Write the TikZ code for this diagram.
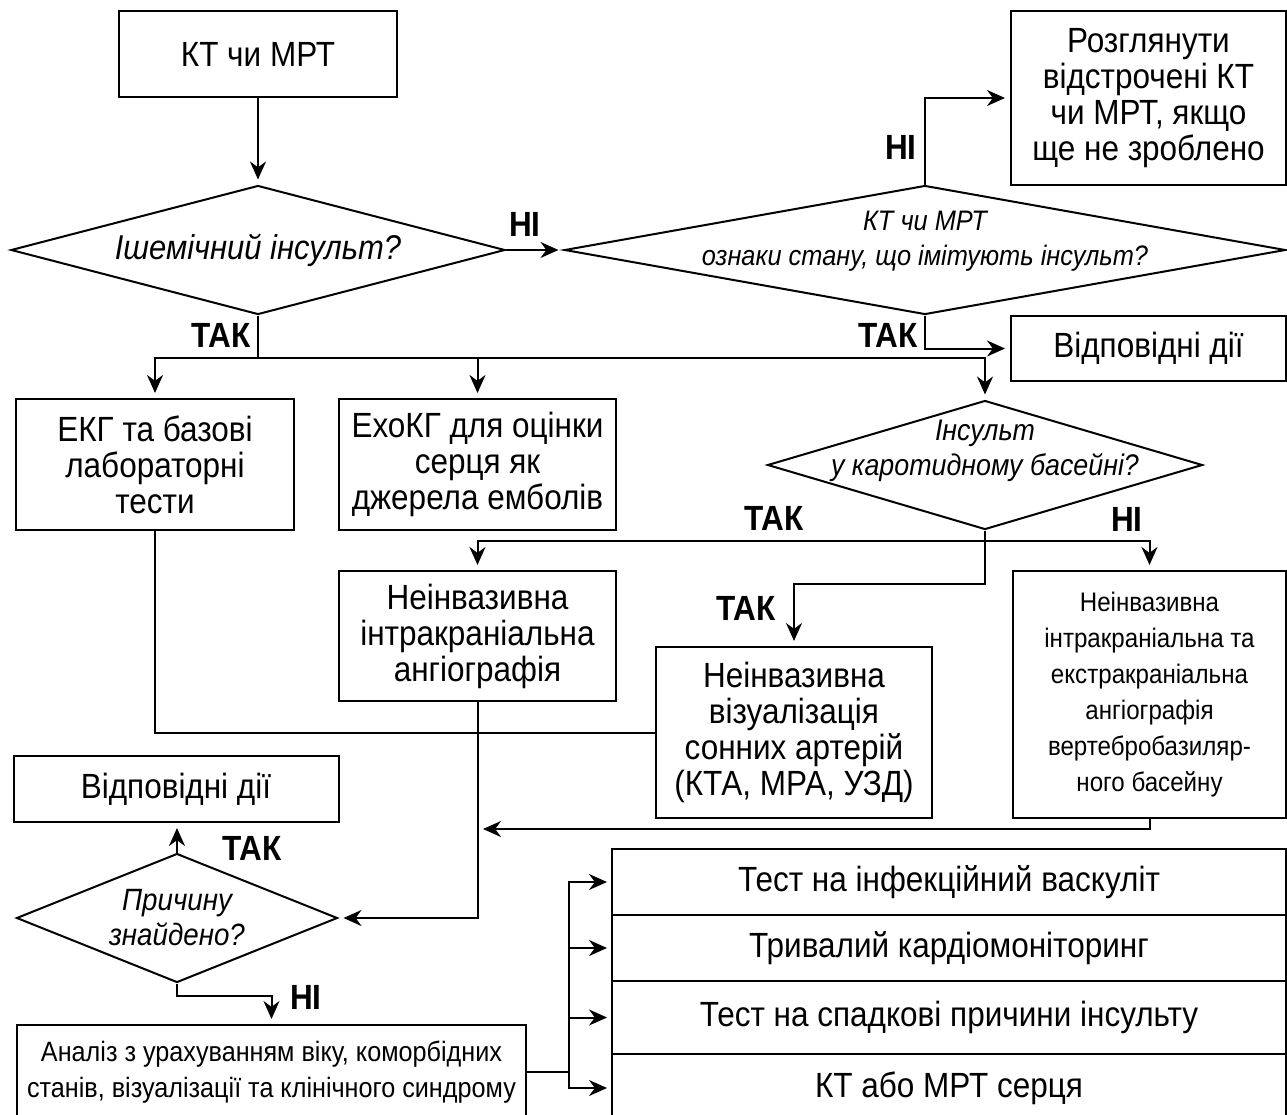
\documentclass[tikz,border=0pt]{standalone}
\usepackage{fontspec}
\setmainfont{Liberation Sans}[FakeStretch=0.9]
\usetikzlibrary{positioning, shapes.geometric, arrows.meta}

\begin{document}
\begin{tikzpicture}[
        x=0.5pt, y=-0.5pt,
        line width=1pt,
        >={Stealth[length=9pt, width=8pt]},
        arr/.style = {->, shorten >=2.5pt},
        box/.style = {rectangle, draw, fill=#1, inner sep=2pt, align=center,
                    font=\fontsize{17.5}{18}\selectfont},
        small/.style = {font=\fontsize{#1}{18}\selectfont},
        decision/.style = {diamond, draw, inner sep=0pt, minimum height=64.5pt},
        ask/.style = {align=center, font=\itshape\fontsize{#1}{17.5}\selectfont},
        yesno/.style = {font=\bfseries\fontsize{17.5}{18}\selectfont}
                    ]
        \useasboundingbox (0,0) rectangle (1287,1115);
        % top part
        \node (ct) [box=white, minimum width=139pt, minimum height=43pt] at (258,54) {КТ чи МРТ};
        \node (isch) [decision, minimum width=247pt,
                label={[ask=17.2]center:Ішемічний інсульт?}] at (258,250) {};
        \node (mimic) [decision, minimum width=360.5pt,
                label={[ask=14.1, yshift=4.5pt]center:{КТ чи МРТ\\ознаки стану, що імітують інсульт?}}] at (925,250) {};
        \node (delay) [box=white, minimum width=137.5pt, minimum height=87pt] at (1148.5,98)
                {Розглянути\\відстрочені КТ\\чи МРТ, якщо\\ще не зроблено};
        \node (act1) [box=white, minimum width=137.5pt, minimum height=32.5pt] at (1148.5,348.5) {Відповідні дії};
        %
        \node (ecg) [box=white, minimum width=139pt, minimum height=65.5pt] at (155,464.5)
                {ЕКГ та базові\\лабораторні\\тести};
        \node (echo) [box=white, minimum width=138.5pt, minimum height=65.5pt] at (477.5,464.5)
                {ЕхоКГ для оцінки\\серця як\\джерела емболів};
        \node (carot) [decision, minimum width=217.5pt,
                label={[ask=14.9, yshift=7pt]center:{Інсульт\\у каротидному басейні?}}] at (985,465) {};
        \node (intra) [box=white, minimum width=138.5pt, minimum height=65pt] at (477.5,636)
                {Неінвазивна\\інтракраніальна\\ангіографія};
        \node (carvis) [box=white, minimum width=138pt, minimum height=85.5pt] at (794,732.5)
                {Неінвазивна\\візуалізація\\сонних артерій\\(КТА, МРА, УЗД)};
        \node (vert) [box=white, small=13.4, minimum width=136.5pt, minimum height=123.5pt] at (1149.5,694.5)
                {Неінвазивна\\інтракраніальна та\\екстракраніальна\\ангіографія\\вертебробазиляр-\\ного басейну};
        % bottom part
        \node (act2) [box=white, minimum width=162.5pt, minimum height=33pt] at (176,789) {Відповідні дії};
        \node (cause) [decision, minimum width=160.5pt,
                label={[ask=15.4]center:{Причину\\знайдено?}}] at (177,918) {};
        \node (anal) [box=white, small=14, minimum width=254.5pt, minimum height=47pt] at (271.5,1072)
                {Аналіз з урахуванням віку, коморбідних\\станів, візуалізації та клінічного синдрому};
        \node (s1) [box=white, outer sep=0pt, minimum width=337pt, minimum height=33pt] at (949,882)
                {Тест на інфекційний васкуліт};
        \node (s2) [box=white, outer sep=0pt, minimum width=337pt, minimum height=33pt, below=0pt of s1]
                {Тривалий кардіомоніторинг};
        \node (s3) [box=white, outer sep=0pt, minimum width=337pt, minimum height=36.5pt, below=0pt of s2]
                {Тест на спадкові причини інсульту};
        \node (s4) [box=white, outer sep=0pt, minimum width=337pt, minimum height=34pt, below=0pt of s3]
                {КТ або МРТ серця};
        %
        \node (no1) [yesno] at (525,224) {НІ};
        \node (no2) [yesno] at (901,147) {НІ};
        \node (yes1) [yesno] at (221,335) {ТАК};
        \node (yes2) [yesno] at (888,335) {ТАК};
        \node (yes3) [yesno] at (774,518) {ТАК};
        \node (no3) [yesno] at (1127,519) {НІ};
        \node (yes4) [yesno] at (746,608) {ТАК};
        \node (yes5) [yesno] at (252,848) {ТАК};
        \node (no4) [yesno] at (306,997) {НІ};
        %
        \coordinate (bus1) at (258,358);
        \coordinate (bus2) at (985,541);
        \coordinate (bend) at (985,584);
        \coordinate (merge) at (478,829);
        \coordinate (fork) at ([xshift=21pt]anal.east);
        %
        \draw[arr] (ct) to (isch);
        \draw[arr] (isch) to (mimic);
        \draw[arr] (mimic.north) |- (delay.west);
        \draw[arr] (mimic.south) |- (act1.west);
        \draw (isch.south) -- (bus1);
        \draw[arr] (bus1) -| (ecg.north);
        \draw[arr] (bus1) -| (echo.north);
        \draw[arr] (bus1) -| (carot.north);
        \draw (carot.south) -- (bus2);
        \draw[arr] (bus2) -| (intra.north);
        \draw[arr] (bus2) -| (vert.north);
        \draw[arr] (bus2) -- (bend) -| (carvis.north);
        \draw (ecg.south) |- (carvis.west);
        \draw[arr] (intra.south) |- (cause.east);
        \draw[arr] (vert.south) |- (merge);
        \draw[arr] (cause.north) -- (cause.north |- act2.south);
        \draw[arr] (cause.south) -- ++(0,12) -| (anal.north);
        \draw (anal.east) -- (fork);
        \draw[arr] (fork) |- (s1.west);
        \draw[arr] (fork) |- (s2.west);
        \draw[arr] (fork) |- (s3.west);
        \draw[arr] (fork) |- (s4.west);
    \end{tikzpicture}
\end{document}
